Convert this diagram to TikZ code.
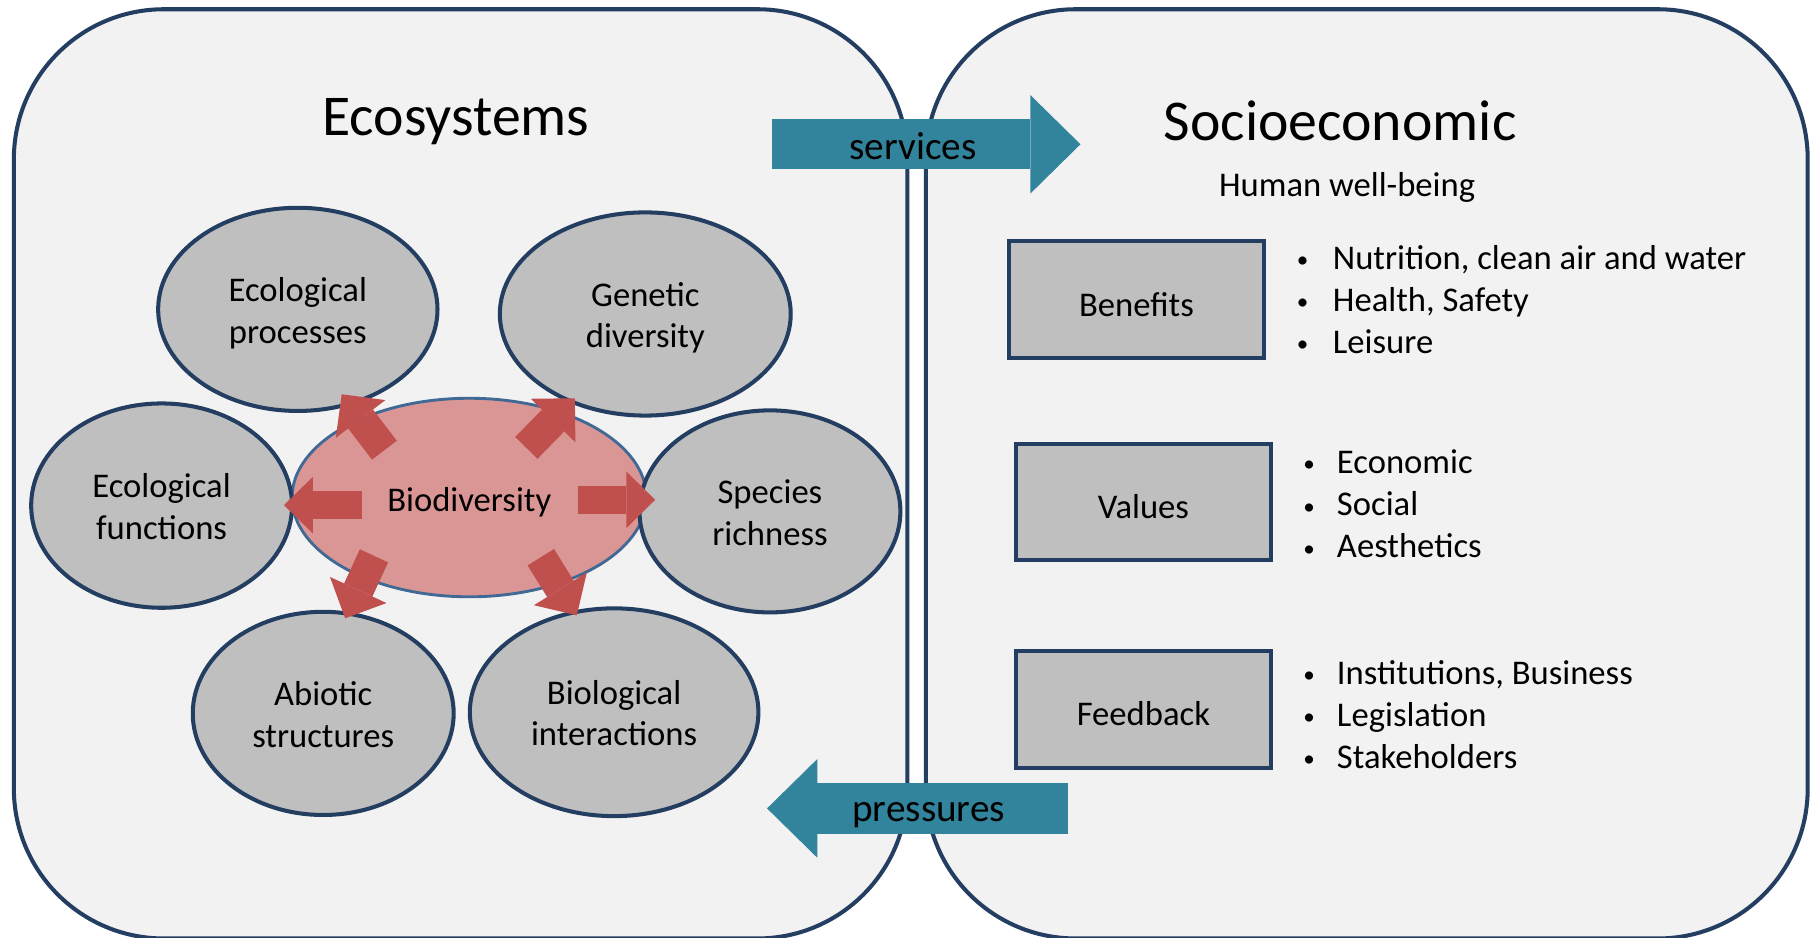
\documentclass[tikz,border=0pt]{standalone}
\usepackage{fontspec}
\setmainfont{Carlito}
\usetikzlibrary{shapes.geometric,arrows.meta}
\definecolor{navy}{RGB}{36,62,98}
\definecolor{panelgray}{RGB}{242,242,242}
\definecolor{ellgray}{RGB}{191,191,191}
\definecolor{biopink}{RGB}{218,150,148}
\definecolor{bioblue}{RGB}{65,105,150}
\definecolor{arrred}{RGB}{192,80,77}
\definecolor{arrteal}{RGB}{49,132,155}
\newcommand\myfs{\fontsize{30}{36}\selectfont}
\newcommand\mylistfs{\fontsize{30}{36.5}\selectfont}
\newcommand\mytitlefs{\fontsize{50}{60}\selectfont}
\newcommand\myarrfs{\fontsize{34}{40}\selectfont}
\newcommand\mybul[1]{\makebox[#1][l]{\hspace{2.8pt}{\fontsize{20}{20}\selectfont\raisebox{1.5pt}{•}}}}
\newcommand\lowr[1]{\raisebox{-4pt}[\height][\depth]{#1}}
\newcommand\twol[2]{\lowr{\begin{tabular}{@{}c@{}}#1\\#2\end{tabular}}}
\begin{document}
\begin{tikzpicture}[x=1pt,y=-1pt,
  panel/.style={draw=navy,line width=3.5pt,fill=panelgray,rounded corners=130pt,inner sep=0pt},
  ell/.style={ellipse,draw=navy,line width=3.5pt,fill=ellgray,inner sep=0pt,font=\myfs},
  bioell/.style={ellipse,draw=bioblue,line width=2.5pt,fill=biopink,inner sep=0pt,font=\myfs},
  gbox/.style={rectangle,draw=navy,line width=3.5pt,fill=ellgray,inner sep=0pt,font=\myfs,minimum width=221pt,minimum height=101pt},
  redarr/.style={draw=arrred,line width=24pt,-{Triangle[width=49pt,length=25pt,line width=0pt]}},
  reddiag/.style={draw=arrred,line width=27pt,-{Triangle[width=54pt,length=27pt,line width=0pt]}},
  tealarr/.style={draw=arrteal,line width=43.5pt,-{Triangle[width=85.5pt,length=43.5pt,line width=0pt]}},
  lst/.style={font=\mylistfs,inner sep=0pt,anchor=west},
]
\useasboundingbox (0,0) rectangle (1568,812);
\fill[white] (0,0) rectangle (1568,812);

% panels
\node[panel,minimum width=774pt,minimum height=805pt] (ecopanel) at (399,410.5) {};
\node[panel,minimum width=764pt,minimum height=805pt] (sociopanel) at (1184,410.5) {};

% teal arrows
\coordinate (sv0) at (669,125);
\coordinate (sv1) at (936,125);
\draw[tealarr] (sv0) -- (sv1);
\node[font=\myarrfs,anchor=base,inner sep=0pt] (svlbl) at (791,138) {services};
\coordinate (pr0) at (925.5,700.3);
\coordinate (pr1) at (664.5,700.3);
\draw[tealarr] (pr0) -- (pr1);
\node[font=\myarrfs,anchor=base,inner sep=0pt] (prlbl) at (804.5,712) {pressures};

% titles
\node[font=\mytitlefs,anchor=base,inner sep=0pt] (ecotitle) at (395,117) {Ecosystems};
\node[font=\mytitlefs,anchor=base,inner sep=0pt] (sociotitle) at (1161,122) {Socioeconomic};
\node[font=\myfs,anchor=base,inner sep=0pt] (hwb) at (1167,170) {Human well-being};

% ellipses
\node[bioell,minimum width=307pt,minimum height=172pt] (bio) at (406.5,431) {\lowr{Biodiversity}};
\node[ell,minimum width=242pt,minimum height=176pt] (ep) at (258,268) {\twol{Ecological}{processes}};
\node[ell,minimum width=252pt,minimum height=176pt] (gd) at (559,272) {\twol{Genetic}{diversity}};
\node[ell,minimum width=226pt,minimum height=177pt] (ef) at (140,438) {\twol{Ecological}{functions}};
\node[ell,minimum width=226pt,minimum height=175pt] (sr) at (667,443) {\twol{Species}{richness}};
\node[ell,minimum width=226pt,minimum height=176pt] (as) at (280,618) {\twol{Abiotic}{structures}};
\node[ell,minimum width=250pt,minimum height=180pt] (bi) at (532,617) {\twol{Biological}{interactions}};

% red arrows
\coordinate (aL0) at (314,437.6);   \coordinate (aL1) at (246,437.6);
\coordinate (aR0) at (501,433);     \coordinate (aR1) at (567.6,433);
\coordinate (aUL0) at (333,390);    \coordinate (aUL1) at (296,341.5);
\coordinate (aUR0) at (456,388);    \coordinate (aUR1) at (498,345);
\coordinate (aDL0) at (324,481.5);  \coordinate (aDL1) at (299,535.6);
\coordinate (aDR0) at (468.5,482.7);\coordinate (aDR1) at (499.7,533);
\draw[redarr] (aL0) -- (aL1);
\draw[redarr] (aR0) -- (aR1);
\draw[reddiag] (aUL0) -- (aUL1);
\draw[reddiag] (aUR0) -- (aUR1);
\draw[reddiag] (aDL0) -- (aDL1);
\draw[reddiag] (aDR0) -- (aDR1);

% boxes
\node[gbox] (benefits) at (984.5,259.5) {\lowr{Benefits}};
\node[gbox] (values) at (990.5,435) {\lowr{Values}};
\node[gbox] (feedback) at (990.5,614.5) {\lowr{Feedback}};

% lists
\node[lst] (benlist) at (1120.5,262.5) {\begin{tabular}{@{}l@{}l@{}}\mybul{34pt} & Nutrition, clean air and water\\ \mybul{34pt} & Health, Safety\\ \mybul{34pt} & Leisure\end{tabular}};
\node[lst] (vallist) at (1126,439.5) {\begin{tabular}{@{}l@{}l@{}}\mybul{32pt} & Economic\\ \mybul{32pt} & Social\\ \mybul{32pt} & Aesthetics\end{tabular}};
\node[lst] (fblist) at (1126,622) {\begin{tabular}{@{}l@{}l@{}}\mybul{32pt} & Institutions, Business\\ \mybul{32pt} & Legislation\\ \mybul{32pt} & Stakeholders\end{tabular}};
\end{tikzpicture}
\end{document}
